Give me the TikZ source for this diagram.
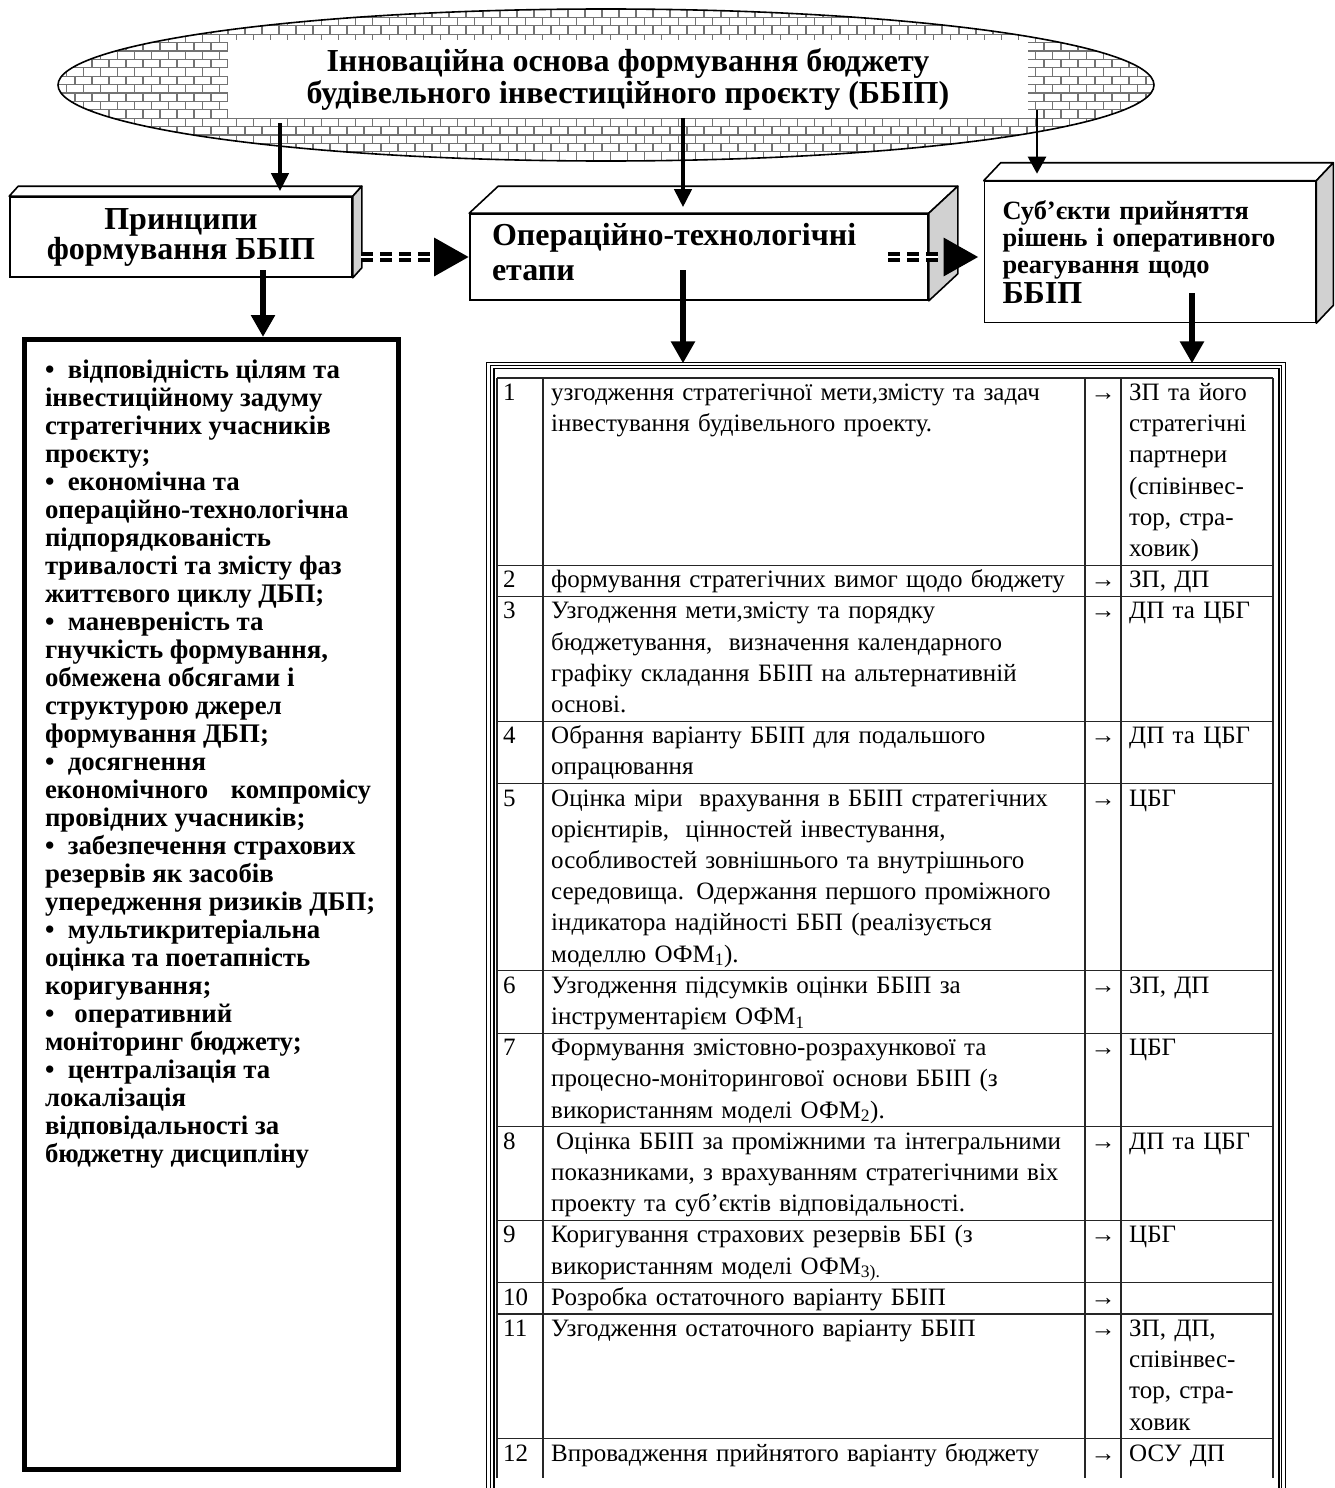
\documentclass[tikz,border=0pt]{standalone}
\usepackage{fontspec}
\setmainfont{Liberation Serif}
\usetikzlibrary{shapes.geometric,arrows.meta,positioning}

% top and side face of a raised box: node, depth x, depth y
\newcommand{\boxfaces}[3]{%
  \draw[facetop] (#1.north west) -- ++(#2,-#3) -- ([shift={(#2,-#3)}]#1.north east) -- (#1.north east) -- cycle;
  \draw[faceside] (#1.north east) -- ++(#2,-#3) -- ([shift={(#2,-#3)}]#1.south east) -- (#1.south east) -- cycle;
}

\tikzset{
  brick/.style={draw=black!55, line width=1.3pt},
  facetop/.style={draw, line width=1.6pt, fill=white, line join=round},
  faceside/.style={draw, line width=1.6pt, fill=black!18, line join=round},
  raised/.style={draw, line width=1.6pt, fill=white, inner sep=0pt},
  gridline/.style={black!85, line width=1.2pt},
  cell/.style={inner sep=0pt, align=left, font=\fontsize{25}{31.2}\selectfont},
  linkarrow/.style={-{Triangle[length=18pt,width=17pt]}, line width=4pt},
  thinarrow/.style={-{Triangle[length=17pt,width=18pt]}, line width=2.5pt},
  downarrow/.style={-{Triangle[length=22pt,width=23pt]}, line width=6pt},
  dasharrow/.style={-{Triangle[length=35pt,width=36pt]}, line width=10pt, dash pattern=on 12pt off 7pt},
}

\begin{document}
\begin{tikzpicture}[x=1pt,y=-1pt]
\useasboundingbox (0,0) rectangle (1335,1488);

% idea ellipse
\node[ellipse, draw, line width=1.6pt, minimum width=1096pt, minimum height=152pt, inner sep=0pt,
  path picture={
    \foreach \r in {0,...,18}{
      \draw[brick] ([yshift=-\r*8.4pt]path picture bounding box.north west) -- ([yshift=-\r*8.4pt]path picture bounding box.north east);
      \foreach \c in {0,...,65}
        \draw[brick] ([shift={({\c*17+mod(\r,2)*8.5},\r*8.4)}]path picture bounding box.north west) -- ++(0,8.4);
    }
  }] (idea) at (606,85) {};
\node[fill=white, minimum width=800pt, minimum height=78pt, inner sep=0pt, align=center,
  font=\bfseries\fontsize{32}{32}\selectfont] (ideatxt) at (628,79)
  {Інноваційна основа формування бюджету\\будівельного інвестиційного проєкту (ББІП)};

% raised boxes
\node[raised, minimum width=342pt, minimum height=80pt, align=center,
  font=\bfseries\fontsize{32}{30}\selectfont] (prin) at (181,237)
  {Принципи\\формування ББІП};
\boxfaces{prin}{9}{10}

\node[raised, minimum width=458pt, minimum height=86pt, inner xsep=22pt, text width=414pt, align=left,
  font=\bfseries\fontsize{32}{35}\selectfont] (oper) at (699,257)
  {Операційно-технологічні\\етапи\rule[-10pt]{0pt}{10pt}};
\boxfaces{oper}{29}{27}

\node[raised, minimum width=331pt, minimum height=141pt, inner xsep=18pt, text width=295pt, align=left,
  font=\bfseries\fontsize{26.4}{27}\selectfont] (subj) at (1150,252)
  {Суб’єкти прийняття\\рішень і оперативного\\реагування щодо\\[3pt]{\fontsize{32}{30}\selectfont ББІП}};
\boxfaces{subj}{17}{18}

% principles list
\node[draw, line width=5pt, minimum width=374pt, minimum height=1130pt, inner sep=0pt,
  font=\bfseries\fontsize{26.8}{28}\selectfont] (prinlist) at (211.5,904.5)
  {\parbox[t][1090pt][t]{333pt}{%
  •\enskip відповідність цілям та\\
  інвестиційному задуму\\
  стратегічних учасників\\
  проєкту;\\
  •\enskip економічна та\\
  операційно-технологічна\\
  підпорядкованість\\
  тривалості та змісту фаз\\
  життєвого циклу ДБП;\\
  •\enskip маневреність та\\
  гнучкість формування,\\
  обмежена обсягами і\\
  структурою джерел\\
  формування ДБП;\\
  •\enskip досягнення\\
  \makebox[326pt][s]{економічного компромісу}\\
  провідних учасників;\\
  •\enskip забезпечення страхових\\
  резервів як засобів\\
  упередження ризиків ДБП;\\
  •\enskip мультикритеріальна\\
  оцінка та поетапність\\
  коригування;\\
  •\enskip\ оперативний\\
  моніторинг бюджету;\\
  •\enskip централізація та\\
  локалізація\\
  відповідальності за\\
  бюджетну дисципліну}};

% stages table
\node[draw, line width=1.3pt, double, double distance=2.2pt, minimum width=795pt, minimum height=1136pt] (stages) at (886,932) {};
\draw[line width=1.3pt] (494,1500) |- (1279,368.5) -- (1279,1500);

\foreach \x in {497,543,1085,1121,1273}
  \draw[gridline] (\x,378) -- (\x,1478);

\foreach \k/\num/\txt/\who in {
  0/1/{узгодження стратегічної мети,змісту та задач\\інвестування будівельного проекту.}/{ЗП та його\\стратегічні\\партнери\\(співінвес-\\тор, стра-\\ховик)},
  6/2/{формування стратегічних вимог щодо бюджету}/{ЗП, ДП},
  7/3/{Узгодження мети,змісту та порядку\\бюджетування, \ визначення календарного\\графіку складання ББІП на альтернативній\\основі.}/{ДП та ЦБГ},
  11/4/{Обрання варіанту ББІП для подальшого\\опрацювання}/{ДП та ЦБГ},
  13/5/{Оцінка міри \ врахування в ББІП стратегічних\\орієнтирів, \ цінностей інвестування,\\особливостей зовнішнього та внутрішнього\\середовища. Одержання першого проміжного\\індикатора надійності ББП (реалізується\\моделлю ОФМ\textsubscript{1}).}/{ЦБГ},
  19/6/{Узгодження підсумків оцінки ББІП за\\інструментарієм ОФМ\textsubscript{1}}/{ЗП, ДП},
  21/7/{Формування змістовно-розрахункової та\\процесно-моніторингової основи ББІП (з\\використанням моделі ОФМ\textsubscript{2}).}/{ЦБГ},
  24/8/{\hspace{5pt}Оцінка ББІП за проміжними та інтегральними\\показниками, з врахуванням стратегічними віх\\проекту та суб’єктів відповідальності.}/{ДП та ЦБГ},
  27/9/{Коригування страхових резервів ББІ (з\\використанням моделі ОФМ\textsubscript{3).}}/{ЦБГ},
  29/10/{Розробка остаточного варіанту ББІП}/{},
  30/11/{Узгодження остаточного варіанту ББІП}/{ЗП, ДП,\\співінвес-\\тор, стра-\\ховик},
  34/12/{Впровадження прийнятого варіанту бюджету}/{ОСУ ДП}
}{
  \draw[gridline] (497,{378+\k*31.2}) -- (1273,{378+\k*31.2});
  \node[cell, anchor=north west] (num\num) at (503,{378.4+\k*31.2}) {\strut\num};
  \node[cell, anchor=north west, text width=600pt] (step\num) at (551,{378.4+\k*31.2}) {\strut\txt};
  \node[cell, anchor=north] (arr\num) at (1103,{378.4+\k*31.2}) {\strut→};
  \node[cell, anchor=north west, text width=200pt] (who\num) at (1129,{378.4+\k*31.2}) {\strut\who};
}

% arrows
\coordinate (s1) at (280,123);
\coordinate (s2) at (683,118);
\coordinate (s3) at (1037,110);
\coordinate (p1) at (263,270);
\coordinate (p2) at (683,270);
\coordinate (p3) at (1192,293);
\coordinate (d1) at (361,257);
\coordinate (d2) at (888,257);

\draw[linkarrow, shorten >=5pt] (s1) -- (s1 |- prin.north);
\draw[linkarrow, shorten >=6pt] (s2) -- (s2 |- oper.north);
\draw[thinarrow, shorten >=7pt] (s3) -- (s3 |- subj.north);

\draw[downarrow] (p1) -- (p1 |- prinlist.north);
\draw[downarrow] (p2) -- (p2 |- stages.north);
\draw[downarrow] (p3) -- (p3 |- stages.north);

\draw[dasharrow, postaction={draw=white, line width=1.8pt, -, shorten >=35pt}] (d1) -- (d1 -| oper.west);
\draw[dasharrow, shorten >=5pt, postaction={draw=white, line width=1.8pt, -, shorten >=40pt}] (d2) -- (d2 -| subj.west);
\end{tikzpicture}
\end{document}
